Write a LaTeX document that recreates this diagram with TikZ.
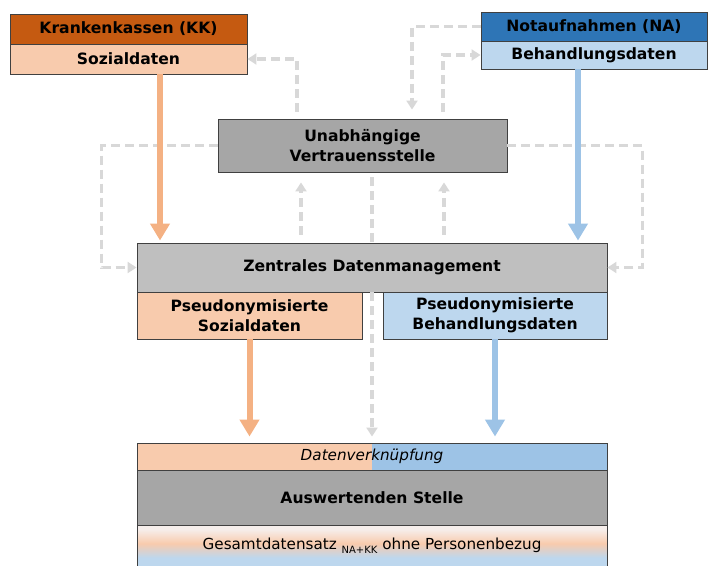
\documentclass[tikz,border=0pt]{standalone}
\usepackage{fontspec}
\setmainfont{DejaVu Sans}
\usetikzlibrary{arrows.meta,calc}

\definecolor{kkdark}{HTML}{C55A11}
\definecolor{kklight}{HTML}{F8CBAD}
\definecolor{nadark}{HTML}{2E75B6}
\definecolor{nalight}{HTML}{BDD7EE}
\definecolor{orangearrow}{HTML}{F4B183}
\definecolor{bluearrow}{HTML}{9DC3E6}
\definecolor{graydark}{HTML}{A6A6A6}
\definecolor{graylight}{HTML}{BFBFBF}
\definecolor{boxline}{HTML}{404040}
\definecolor{dashgray}{HTML}{D8D8D8}
\definecolor{paletop}{HTML}{F6EEEB}

% result band: pale top, peach middle, light blue bottom
\pgfdeclareverticalshading{resultshade}{100bp}{%
  color(0bp)=(nalight); color(25bp)=(nalight); color(36bp)=(nalight);
  color(53bp)=(kklight); color(70bp)=(paletop); color(75bp)=(paletop); color(100bp)=(paletop)}

\begin{document}
\begin{tikzpicture}[x=1pt,y=-1pt,
  box/.style={draw=boxline, line width=0.9pt, inner sep=0pt, align=center,
    font=\bfseries\fontsize{15.6}{20}\selectfont},
  plainbox/.style={box, font=\fontsize{15.2}{19}\selectfont},
  dataflow/.style={line width=6pt, -{Triangle[width=19pt,length=17pt]}},
  dashlink/.style={draw=dashgray, line width=3.3pt, dash pattern=on 9pt off 5pt,
    -{Triangle[width=11pt,length=9pt]}},
  dashplain/.style={draw=dashgray, line width=3.3pt, dash pattern=on 9pt off 5pt}]
\useasboundingbox (0,0) rectangle (708,565);

% data sources
\node[box, fill=kkdark, minimum width=237pt, minimum height=30pt] (kkt) at (128.5,29) {Krankenkassen (KK)};
\node[box, fill=kklight, minimum width=237pt, minimum height=30pt] (kkb) at (128.5,59) {Sozialdaten};
\node[box, fill=nadark, minimum width=226pt, minimum height=29pt] (nat) at (594,26.5) {Notaufnahmen (NA)};
\node[box, fill=nalight, minimum width=226pt, minimum height=28pt] (nab) at (594,55) {Behandlungsdaten};

% trust centre and central data management
\node[box, fill=graydark, minimum width=289pt, minimum height=53pt] (vs) at (362.5,145.5) {Unabhängige\\Vertrauensstelle};
\node[box, fill=graylight, minimum width=470pt, minimum height=49pt] (zdm) at (372,267.5) {Zentrales Datenmanagement};
\node[box, fill=kklight, minimum width=225pt, minimum height=47pt] (ps) at (249.5,315.5) {Pseudonymisierte\\Sozialdaten};
\node[box, fill=nalight, minimum width=224pt, minimum height=47pt] (pb) at (495,315.5) {Pseudonymisierte\\Behandlungsdaten};

% linkage and evaluation
\node[inner sep=0pt, fill=kklight, minimum width=235pt, minimum height=27pt] (dvl) at (254.5,456.5) {};
\node[inner sep=0pt, fill=bluearrow, minimum width=235pt, minimum height=27pt] (dvr) at (489.5,456.5) {};
\node[draw=boxline, line width=0.9pt, inner sep=0pt, minimum width=470pt, minimum height=27pt,
  font=\itshape\fontsize{15.2}{19}\selectfont] (dv) at (372,456.5) {Datenverknüpfung};
\node[box, fill=graydark, minimum width=470pt, minimum height=55pt] (as) at (372,497.5) {Auswertenden Stelle};
\node[plainbox, minimum width=470pt, minimum height=42pt, shading=resultshade] (gd) at (372,546)
  {Gesamtdatensatz \raisebox{-0.5ex}{\fontsize{10}{10}\selectfont NA+KK} ohne Personenbezug};

% helper columns
\coordinate (xa) at (297,0);
\coordinate (xb) at (412,0);
\coordinate (xc) at (443,0);
\coordinate (xd) at (301,0);
\coordinate (xe) at (444,0);
\coordinate (xm) at (372,0);
\coordinate (xo) at (160,0);
\coordinate (xn) at (578,0);

% key exchange links (dashed)
\draw[dashlink, shorten <=7pt] (vs.north -| xa) |- (kkb.east);
\draw[dashlink, shorten >=9pt] (nat.west) -| (vs.north -| xb);
\draw[dashlink, shorten <=7pt] (vs.north -| xc) |- (nab.west);
\draw[dashlink] (vs.west) -| ($(zdm.west)+(-35,0)$) -- (zdm.west);
\draw[dashlink] (vs.east) -| ($(zdm.east)+(35,0)$) -- (zdm.east);
\draw[dashlink, shorten <=8pt, shorten >=10pt] (zdm.north -| xd) -- (vs.south -| xd);
\draw[dashlink, shorten <=8pt, shorten >=10pt] (zdm.north -| xe) -- (vs.south -| xe);
\draw[dashplain, shorten <=5pt] (vs.south -| xm) -- (zdm.north -| xm);
\draw[dashlink, shorten >=6pt] (zdm.south -| xm) -- (dv.north -| xm);

% data flows
\draw[dataflow, orangearrow, shorten >=2pt] (kkb.south -| xo) -- (zdm.north -| xo);
\draw[dataflow, bluearrow, shorten >=2pt] (nab.south -| xn) -- (zdm.north -| xn);
\draw[dataflow, orangearrow, shorten >=6pt] (ps.south) -- (dv.north -| ps.south);
\draw[dataflow, bluearrow, shorten >=6pt] (pb.south) -- (dv.north -| pb.south);
\end{tikzpicture}
\end{document}
